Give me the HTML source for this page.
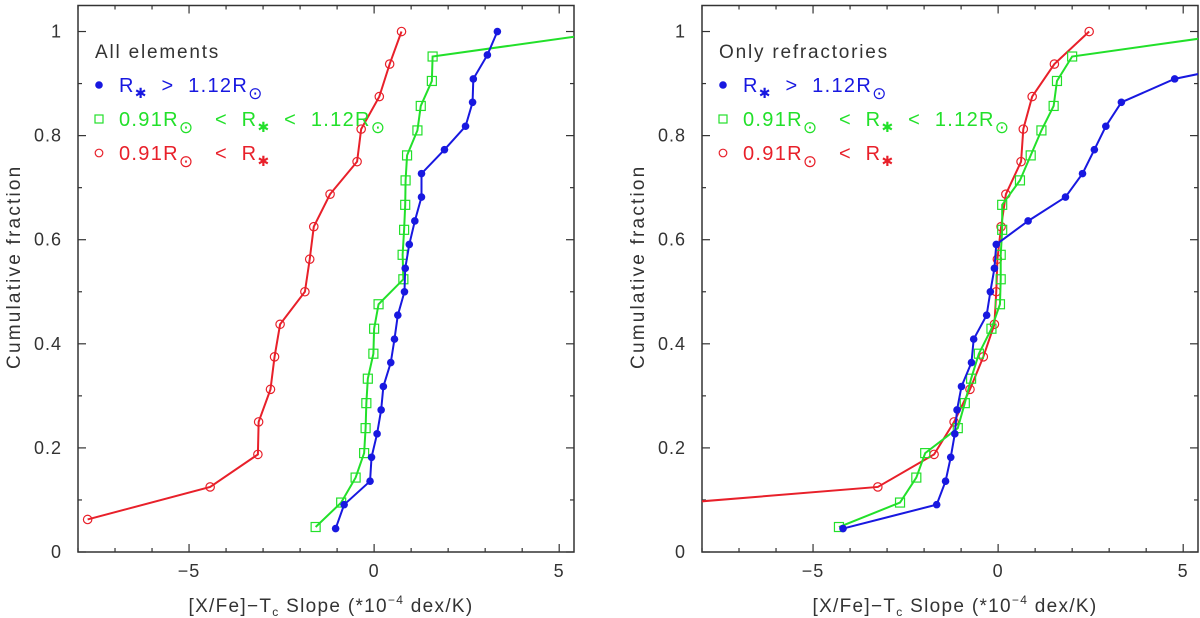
<!DOCTYPE html>
<html><head><meta charset="utf-8"><style>
html,body{margin:0;padding:0;background:#fff;}
svg{display:block;font-family:"Liberation Sans","DejaVu Sans",sans-serif;}
</style></head><body>
<svg id="c" width="1200" height="618" viewBox="0 0 1200 618" xmlns="http://www.w3.org/2000/svg"></svg>
<script>
// ---- data ----
const allRedX = [-7.74,-4.43,-3.14,-3.12,-2.80,-2.69,-2.54,-1.87,-1.74,-1.63,-1.19,-0.46,-0.35,0.14,0.42,0.74];
const allRedY = [0.0625,0.125,0.1875,0.25,0.3125,0.375,0.4375,0.5,0.5625,0.625,0.6875,0.75,0.8125,0.875,0.9375,1.0];
const allGreenX = [-1.58,-0.89,-0.50,-0.27,-0.23,-0.21,-0.17,-0.02,0.0,0.12,0.79,0.77,0.81,0.84,0.85,0.89,1.17,1.26,1.56,1.58,6.4];
const allGreenY = [0.048,0.095,0.143,0.190,0.238,0.286,0.333,0.381,0.429,0.476,0.524,0.571,0.619,0.667,0.714,0.762,0.810,0.857,0.905,0.952,1.0];
const allBlueX = [-1.04,-0.81,-0.11,-0.07,0.08,0.19,0.25,0.45,0.55,0.64,0.82,0.84,0.95,1.10,1.28,1.28,1.90,2.47,2.66,2.68,3.06,3.33];
const allBlueY = [0.045,0.091,0.136,0.182,0.227,0.273,0.318,0.364,0.409,0.455,0.5,0.545,0.591,0.636,0.682,0.727,0.773,0.818,0.864,0.909,0.955,1.0];
const refRedX = [-14,-3.25,-1.73,-1.19,-0.76,-0.40,-0.10,-0.05,-0.02,0.08,0.21,0.62,0.68,0.92,1.52,2.46];
const refRedY = allRedY;
const refGreenX = [-4.30,-2.65,-2.21,-1.97,-1.09,-0.90,-0.73,-0.52,-0.18,0.05,0.07,0.07,0.11,0.11,0.59,0.88,1.17,1.50,1.59,2.00,6.8];
const refGreenY = allGreenY;
const refBlueX = [-4.19,-1.66,-1.42,-1.28,-1.17,-1.11,-0.99,-0.72,-0.66,-0.31,-0.21,-0.10,-0.05,0.81,1.82,2.28,2.60,2.91,3.33,4.77,7.9,9.5];
const refBlueY = allBlueY;
const xTicks = [-5,0,5];
const xTickLabels = ["\u22125","0","5"];
const yTicks = [0,0.2,0.4,0.6,0.8,1];
const yTickLabels = ["0","0.2","0.4","0.6","0.8","1"];

const NS="http://www.w3.org/2000/svg";
const svg=document.getElementById('c');
function mk(tag,attrs,parent){const e=document.createElementNS(NS,tag);for(const k in attrs)e.setAttribute(k,attrs[k]);(parent||svg).appendChild(e);return e;}
const XMIN=-8,XMAX=5.4,YMIN=0,YMAX=1.05;
const RED="#e8202a",GREEN="#22e02a",BLUE="#1818e0",INK="#333";

function panel(px0,px1,py0,py1,title,series,pname){
  const g=mk('g',{});
  
  
  const sx=v=>px0+(v-XMIN)/(XMAX-XMIN)*(px1-px0);
  const sy=v=>py1-(v-YMIN)/(YMAX-YMIN)*(py1-py0);
  const cid='clip-'+pname;
  const cp=mk('clipPath',{id:cid},g);mk('rect',{x:px0,y:py0,width:px1-px0,height:py1-py0},cp);
  const fr=mk('rect',{x:px0,y:py0,width:px1-px0,height:py1-py0,fill:'none',stroke:INK,'stroke-width':1.5},g);
  
  for(let v=-8;v<=5;v++){
    const major=(v%5===0);const L=major?8:4;const x=sx(v);
    const t1=mk('line',{x1:x,x2:x,y1:py1,y2:py1-L,stroke:INK,'stroke-width':1.2},g);
    
    const t2=mk('line',{x1:x,x2:x,y1:py0,y2:py0+L,stroke:INK,'stroke-width':1.2},g);
    
  }
  for(let i=0;i<=10;i++){
    const v=i/10;const major=(i%2===0);const L=major?8:4;const y=sy(v);
    const t1=mk('line',{x1:px0,x2:px0+L,y1:y,y2:y,stroke:INK,'stroke-width':1.2},g);
    
    const t2=mk('line',{x1:px1,x2:px1-L,y1:y,y2:y,stroke:INK,'stroke-width':1.2},g);
    
  }
  xTicks.forEach((v,i)=>{
    const t=mk('text',{x:sx(v),y:577,'text-anchor':'middle','font-size':18,fill:INK,'letter-spacing':1},g);t.textContent=xTickLabels[i];
    
  });
  yTicks.forEach((v,i)=>{
    const t=mk('text',{x:px0-16,y:sy(v)+6,'text-anchor':'end','font-size':18,fill:INK,'letter-spacing':1},g);t.textContent=yTickLabels[i];
    
  });
  const yt=mk('text',{x:0,y:0,transform:`translate(${px0-58},${(py0+py1)/2-12}) rotate(-90)`,'text-anchor':'middle','font-size':19,fill:INK,'letter-spacing':2.2},g);
  yt.textContent='Cumulative fraction';
  
  const xt=mk('text',{x:(px0+px1)/2+5,y:612,'text-anchor':'middle','font-size':19,fill:INK,'letter-spacing':1.3},g);
  xt.innerHTML='[X/Fe]\u2212T<tspan font-size="12" dy="4">c</tspan><tspan dy="-4"> Slope (*10</tspan><tspan font-size="12" dy="-8">\u22124</tspan><tspan dy="8"> dex/K)</tspan>';
  
  const sg=mk('g',{'clip-path':`url(#${cid})`},g);
  series.forEach(s=>{
    const pts=s.x.map((v,i)=>sx(v)+','+sy(s.y[i])).join(' ');
    const pl=mk('polyline',{points:pts,fill:'none',stroke:s.c,'stroke-width':2},sg);
    
    s.x.forEach((v,i)=>{
      const cx=sx(v),cy=sy(s.y[i]);let m;
      if(s.m==='dot')m=mk('circle',{cx,cy,r:3.8,fill:s.c},sg);
      else if(s.m==='sq')m=mk('rect',{x:cx-4.5,y:cy-4.5,width:9,height:9,fill:'none',stroke:s.c,'stroke-width':1.2},sg);
      else m=mk('circle',{cx,cy,r:4.2,fill:'none',stroke:s.c,'stroke-width':1.2},sg);
      
    });
  });
  const lx=px0+17;
  const tt=mk('text',{x:lx,y:58,'font-size':19,fill:INK,'letter-spacing':1.8},g);tt.textContent=title;
  
  const rows=[
    {y:85,c:BLUE,m:'dot',html:'R<tspan font-size="14" dy="6">\u2731</tspan><tspan dy="-6">  &gt;  1.12R</tspan><tspan font-size="17" dy="7">\u2299</tspan>',n:'legend-entry-large'},
    {y:119,c:GREEN,m:'sq',html:'0.91R<tspan font-size="17" dy="7">\u2299</tspan><tspan dy="-7">   &lt;  R</tspan><tspan font-size="14" dy="6">\u2731</tspan><tspan dy="-6">  &lt;  1.12R</tspan><tspan font-size="17" dy="7">\u2299</tspan>',n:'legend-entry-solar'},
    {y:153,c:RED,m:'ci',html:'0.91R<tspan font-size="17" dy="7">\u2299</tspan><tspan dy="-7">   &lt;  R</tspan><tspan font-size="14" dy="6">\u2731</tspan>',n:'legend-entry-small'}
  ];
  rows.forEach(r=>{
    const lg=mk('g',{},g);
    const mx=lx+4;
    if(r.m==='dot')mk('circle',{cx:mx,cy:r.y,r:3.8,fill:r.c},lg);
    else if(r.m==='sq')mk('rect',{x:mx-4,y:r.y-4,width:8,height:8,fill:'none',stroke:r.c,'stroke-width':1.2},lg);
    else mk('circle',{cx:mx,cy:r.y,r:3.8,fill:'none',stroke:r.c,'stroke-width':1.2},lg);
    const t=mk('text',{x:lx+24,y:r.y+7,'font-size':20,fill:r.c,'letter-spacing':1.3},lg);
    t.style.whiteSpace='pre';
    t.innerHTML=r.html;
  });
}
panel(78,574,5.5,552,'All elements',[
  {x:allRedX,y:allRedY,c:RED,m:'ci',name:'all-small-radius'},
  {x:allGreenX,y:allGreenY,c:GREEN,m:'sq',name:'all-solar-radius'},
  {x:allBlueX,y:allBlueY,c:BLUE,m:'dot',name:'all-large-radius'}
],'panel-all-elements');
panel(702,1198,5.5,552,'Only refractories',[
  {x:refRedX,y:refRedY,c:RED,m:'ci',name:'ref-small-radius'},
  {x:refGreenX,y:refGreenY,c:GREEN,m:'sq',name:'ref-solar-radius'},
  {x:refBlueX,y:refBlueY,c:BLUE,m:'dot',name:'ref-large-radius'}
],'panel-only-refractories');
</script>
</body></html>
